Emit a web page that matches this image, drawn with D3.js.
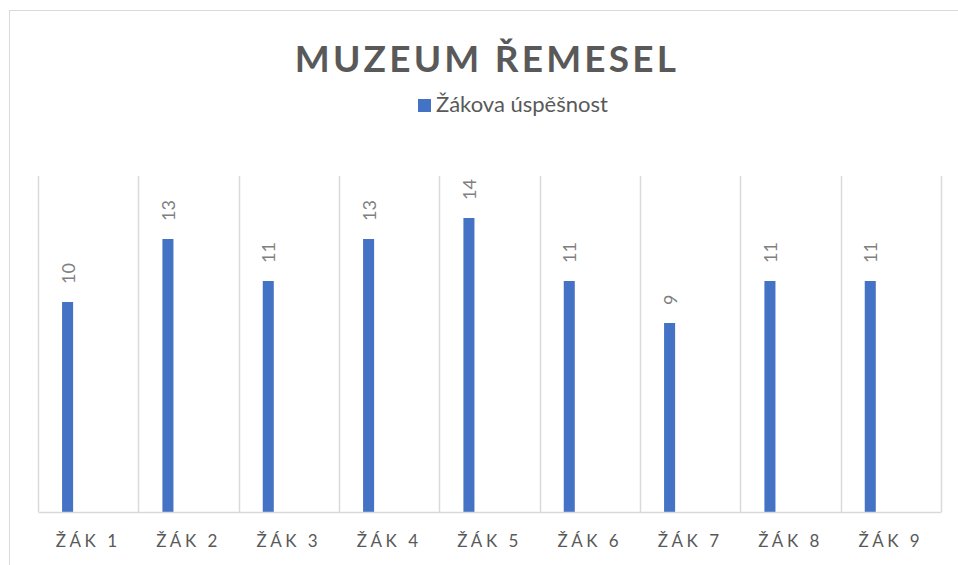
<!DOCTYPE html>
<html>
<head>
<meta charset="utf-8">
<script src="https://cdn.jsdelivr.net/npm/d3@7"></script>
<style>
  body { margin: 0; background: #fff; }
  svg { display: block; }
</style>
</head>
<body>
<div id="chart"></div>
<script>
// data
const categories = ["ŽÁK 1", "ŽÁK 2", "ŽÁK 3", "ŽÁK 4", "ŽÁK 5", "ŽÁK 6", "ŽÁK 7", "ŽÁK 8", "ŽÁK 9"];
const values = [10, 13, 11, 13, 14, 11, 9, 11, 11];
const seriesName = "Žákova úspěšnost";
const chartTitle = "MUZEUM ŘEMESEL";

const width = 958, height = 565;
const margin = {top: 176, right: 17, bottom: 53, left: 38};
const innerW = width - margin.left - margin.right;
const innerH = height - margin.top - margin.bottom;
const font = "Lato, 'Open Sans', sans-serif";

const svg = d3.select("#chart").append("svg")
    .attr("width", width)
    .attr("height", height);

// chart frame
svg.append("rect")
    .attr("x", 9.5).attr("y", 10.5)
    .attr("width", 960).attr("height", 570)
    .attr("fill", "none")
    .attr("stroke", "#d9d9d9");

const g = svg.append("g")
    .attr("transform", "translate(" + margin.left + "," + margin.top + ")");

let x = d3.scaleBand()
    .domain(categories)
    .range([0, innerW])
    .padding(0);

let y = d3.scaleLinear()
    .domain([0, 16])
    .range([innerH, 0]);

// vertical gridlines between categories
let edges = categories.map(c => x(c)).concat([innerW]);
g.selectAll(".grid")
    .data(edges)
    .enter().append("line")
    .attr("x1", d => Math.round(d) + 0.5)
    .attr("x2", d => Math.round(d) + 0.5)
    .attr("y1", 0)
    .attr("y2", innerH)
    .attr("stroke", "#d9d9d9")
    .attr("stroke-width", 1.5);

// bars sit in left part of each band
let barW = x.bandwidth() * 0.11;
let barOff = x.bandwidth() * 0.24;

g.selectAll(".bar")
    .data(values)
    .enter().append("rect")
    .attr("x", (d, i) => x(categories[i]) + barOff)
    .attr("y", d => y(d))
    .attr("width", barW)
    .attr("height", d => innerH - y(d))
    .attr("fill", "#4472c4");

// data labels (rotated)
g.selectAll(".lbl")
    .data(values)
    .enter().append("text")
    .attr("transform", (d, i) => "translate(" + (x(categories[i]) + barOff + barW / 2 + 7) + "," + (y(d) - 18) + ") rotate(-90)")
    .attr("text-anchor", "start")
    .style("font-family", font)
    .style("font-size", "18px")
    .style("fill", "#7f7f7f")
    .text(d => d);

// x axis
let xAxis = d3.axisBottom(x).tickSize(0).tickPadding(23);
let ax = g.append("g")
    .attr("transform", "translate(0," + innerH + ")")
    .call(xAxis);
ax.select(".domain").attr("stroke", "#d9d9d9").attr("stroke-width", 1.5);
ax.selectAll("text")
    .style("font-family", font)
    .style("font-size", "17px")
    .style("letter-spacing", "3.5px")
    .style("fill", "#595959");

// title
svg.append("text")
    .attr("x", 487)
    .attr("y", 72)
    .attr("text-anchor", "middle")
    .style("font-family", font)
    .style("font-size", "37px")
    .style("font-weight", "bold")
    .style("letter-spacing", "3.2px")
    .style("fill", "#595959")
    .text(chartTitle);

// legend
let leg = svg.append("g").attr("transform", "translate(418,99)");
leg.append("rect")
    .attr("width", 13).attr("height", 13)
    .attr("fill", "#4472c4");
leg.append("text")
    .attr("x", 18)
    .attr("y", 13)
    .style("font-family", font)
    .style("font-size", "22px")
    .style("fill", "#595959")
    .text(seriesName);
</script>
</body>
</html>
